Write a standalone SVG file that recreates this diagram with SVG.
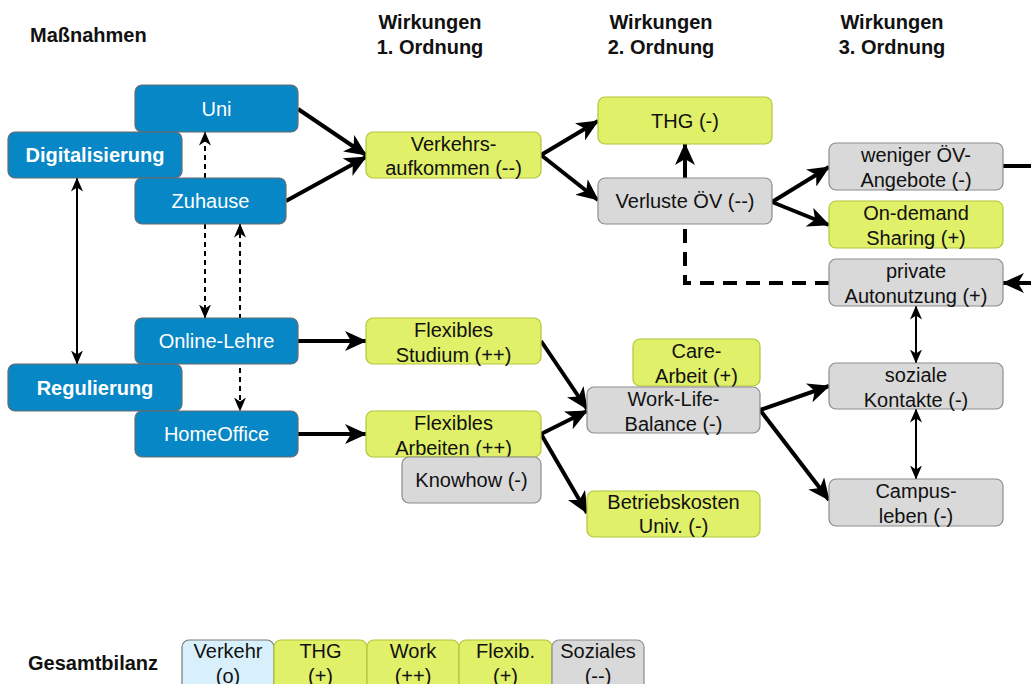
<svg xmlns="http://www.w3.org/2000/svg" width="1031" height="684" viewBox="0 0 1031 684">
  <style>
    text { font-family: "Liberation Sans", Arial, Helvetica, sans-serif; font-size: 20px; text-anchor: middle; fill: #111; }
    .hdr { font-weight: bold; }
    .hdr-l { font-weight: bold; text-anchor: start; }
    .blue rect { fill: #0787c6; stroke: #6b6b6b; stroke-width: 1.2; }
    .blue text { fill: #fff; }
    .blue.bold text { font-weight: bold; }
    .green rect { fill: #e0f068; stroke: #b3c63b; stroke-width: 1.2; }
    .gray rect { fill: #d9d9d9; stroke: #8c8c8c; stroke-width: 1.2; }
    .lblue rect { fill: #d8f0fb; stroke: #7a7a7a; stroke-width: 1.2; }
    .thick { fill: none; stroke: #000; stroke-width: 4; marker-end: url(#arrowL); }
    .thickdash { fill: none; stroke: #000; stroke-width: 4; stroke-dasharray: 14 9; }
    .thin { fill: none; stroke: #000; stroke-width: 2; }
    .thindash { fill: none; stroke: #000; stroke-width: 2; stroke-dasharray: 5 4; }
    .end { marker-end: url(#arrowS); }
    .both { marker-start: url(#arrowS); marker-end: url(#arrowS); }
  </style>
  <defs>
    <marker id="arrowL" viewBox="0 0 22 20" markerWidth="22" markerHeight="20" refX="21" refY="10" markerUnits="userSpaceOnUse" orient="auto">
      <path d="M0,0 L22,10 L0,20 L6,10 Z" fill="#000"/>
    </marker>
    <marker id="arrowS" viewBox="0 0 14 12" markerWidth="14" markerHeight="12" refX="13.5" refY="6" markerUnits="userSpaceOnUse" orient="auto-start-reverse">
      <path d="M0,0 L14,6 L0,12 L4,6 Z" fill="#000"/>
    </marker>
  </defs>

  <rect width="1031" height="684" fill="#fff"/>

  <!-- column headings -->
  <g id="headings">
    <text class="hdr-l" x="30" y="42">Maßnahmen</text>
    <text class="hdr" x="430" y="29">Wirkungen</text>
    <text class="hdr" x="430" y="54">1. Ordnung</text>
    <text class="hdr" x="661" y="29">Wirkungen</text>
    <text class="hdr" x="661" y="54">2. Ordnung</text>
    <text class="hdr" x="892" y="29">Wirkungen</text>
    <text class="hdr" x="892" y="54">3. Ordnung</text>
  </g>

  <!-- connectors -->
  <g id="connectors">
    <path class="thick" d="M298,109 L366,155"/>
    <path class="thick" d="M286,201 L366,157"/>
    <path class="thick" d="M541,155 L598,121"/>
    <path class="thick" d="M541,155 L598,200"/>
    <path class="thick" d="M772,202 L829,167"/>
    <path class="thick" d="M772,202 L829,225"/>
    <path class="thick" d="M1003,166 H1050 V283 H1003"/>
    <path class="thickdash" d="M829,283 H685 V224"/>
    <path class="thick" d="M685,178 V144"/>
    <path class="thick" d="M298,341 H366"/>
    <path class="thick" d="M298,434 H366"/>
    <path class="thick" d="M541,341 L587,409"/>
    <path class="thick" d="M541,434 L587,411"/>
    <path class="thick" d="M541,434 L587,513"/>
    <path class="thick" d="M760,410 L829,386"/>
    <path class="thick" d="M760,410 L829,500"/>
    <path class="thin both" d="M77,178 V364"/>
    <path class="thin both" d="M916,306 V363"/>
    <path class="thin both" d="M916,409 V479"/>
    <path class="thindash end" d="M205,178 V132"/>
    <path class="thindash end" d="M205,224 V318"/>
    <path class="thindash both" d="M240,224 V411"/>
  </g>

  <!-- measures -->
  <g id="uni" class="blue"><rect x="135" y="85" width="163" height="47" rx="7"/><text x="216.5" y="116">Uni</text></g>
  <g id="digitalisierung" class="blue bold"><rect x="8" y="132" width="174" height="46" rx="7"/><text x="95" y="162">Digitalisierung</text></g>
  <g id="zuhause" class="blue"><rect x="135" y="178" width="151" height="46" rx="7"/><text x="210.5" y="208">Zuhause</text></g>
  <g id="online-lehre" class="blue"><rect x="135" y="318" width="163" height="46" rx="7"/><text x="216.5" y="348">Online-Lehre</text></g>
  <g id="regulierung" class="blue bold"><rect x="8" y="364" width="174" height="47" rx="7"/><text x="95" y="395">Regulierung</text></g>
  <g id="homeoffice" class="blue"><rect x="135" y="411" width="163" height="46" rx="7"/><text x="216.5" y="441">HomeOffice</text></g>

  <!-- first-order effects -->
  <g id="verkehrsaufkommen" class="green"><rect x="366" y="132" width="175" height="46" rx="7"/><text x="453.5" y="151">Verkehrs-</text><text x="453.5" y="175">aufkommen (--)</text></g>
  <g id="flex-studium" class="green"><rect x="366" y="318" width="175" height="46" rx="7"/><text x="453.5" y="337">Flexibles</text><text x="453.5" y="362">Studium (++)</text></g>
  <g id="flex-arbeiten" class="green"><rect x="366" y="411" width="175" height="46" rx="7"/><text x="453.5" y="430">Flexibles</text><text x="453.5" y="455">Arbeiten (++)</text></g>
  <g id="knowhow" class="gray"><rect x="402" y="457" width="139" height="46" rx="7"/><text x="471.5" y="487">Knowhow (-)</text></g>

  <!-- second-order effects -->
  <g id="thg" class="green"><rect x="598" y="97" width="174" height="47" rx="7"/><text x="685" y="128">THG (-)</text></g>
  <g id="verluste-oev" class="gray"><rect x="598" y="178" width="174" height="46" rx="7"/><text x="685" y="208">Verluste ÖV (--)</text></g>
  <g id="care-arbeit" class="green"><rect x="633" y="339" width="127" height="47" rx="7"/><text x="696.5" y="358">Care-</text><text x="696.5" y="383">Arbeit (+)</text></g>
  <g id="work-life" class="gray"><rect x="587" y="387" width="173" height="46" rx="7"/><text x="673.5" y="406">Work-Life-</text><text x="673.5" y="431">Balance (-)</text></g>
  <g id="betriebskosten" class="green"><rect x="587" y="491" width="173" height="46" rx="7"/><text x="673.5" y="509">Betriebskosten</text><text x="673.5" y="533">Univ. (-)</text></g>

  <!-- third-order effects -->
  <g id="weniger-oev" class="gray"><rect x="829" y="143" width="174" height="47" rx="7"/><text x="916" y="162">weniger ÖV-</text><text x="916" y="187">Angebote (-)</text></g>
  <g id="on-demand" class="green"><rect x="829" y="201" width="174" height="47" rx="7"/><text x="916" y="220">On-demand</text><text x="916" y="245">Sharing (+)</text></g>
  <g id="private-auto" class="gray"><rect x="829" y="259" width="174" height="47" rx="7"/><text x="916" y="278">private</text><text x="916" y="303">Autonutzung (+)</text></g>
  <g id="soziale-kontakte" class="gray"><rect x="829" y="363" width="174" height="46" rx="7"/><text x="916" y="382">soziale</text><text x="916" y="407">Kontakte (-)</text></g>
  <g id="campusleben" class="gray"><rect x="829" y="479" width="174" height="47" rx="7"/><text x="916" y="498">Campus-</text><text x="916" y="523">leben (-)</text></g>

  <!-- overall balance -->
  <g id="gesamtbilanz">
    <text class="hdr-l" x="28" y="670">Gesamtbilanz</text>
    <g id="bilanz-verkehr" class="lblue"><rect x="182" y="640" width="92" height="54" rx="7"/><text x="228" y="658">Verkehr</text><text x="228" y="683">(o)</text></g>
    <g id="bilanz-thg" class="green"><rect x="274" y="640" width="93" height="54" rx="7"/><text x="320.5" y="658">THG</text><text x="320.5" y="683">(+)</text></g>
    <g id="bilanz-work" class="green"><rect x="367" y="640" width="92" height="54" rx="7"/><text x="413" y="658">Work</text><text x="413" y="683">(++)</text></g>
    <g id="bilanz-flexib" class="green"><rect x="459" y="640" width="93" height="54" rx="7"/><text x="505.5" y="658">Flexib.</text><text x="505.5" y="683">(+)</text></g>
    <g id="bilanz-soziales" class="gray"><rect x="552" y="640" width="92" height="54" rx="7"/><text x="598" y="658">Soziales</text><text x="598" y="683">(--)</text></g>
  </g>
</svg>
